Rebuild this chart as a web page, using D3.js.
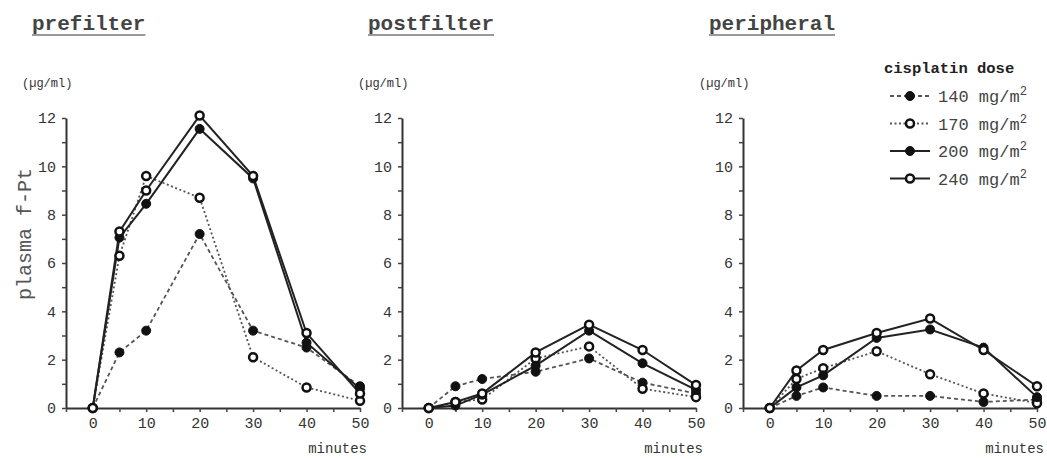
<!DOCTYPE html>
<html>
<head>
<meta charset="utf-8">
<script src="https://cdn.jsdelivr.net/npm/d3@7"></script>
<style>
  body { margin: 0; background: #fff; }
  text { font-family: "Liberation Mono", "Courier New", "DejaVu Sans Mono", monospace; fill: #333; }
</style>
</head>
<body>
<div id="chart"></div>
<script>
// time points (minutes) and doses (mg/m2)
const minutes = [0, 5, 10, 20, 30, 40, 50];
const doses = [140, 170, 200, 240];
const panelTitles = ["prefilter", "postfilter", "peripheral"];

// plasma f-Pt, ug/ml
const pre140 = [0, 2.3, 3.2, 7.2, 3.2, 2.5, 0.9];
const pre170 = [0, 6.3, 9.6, 8.7, 2.1, 0.85, 0.3];
const pre200 = [0, 7.05, 8.45, 11.55, 9.5, 2.7, 0.8];
const pre240 = [0, 7.3, 9.0, 12.1, 9.6, 3.1, 0.6];

const post140 = [0, 0.9, 1.2, 1.5, 2.05, 1.05, 0.6];
const post170 = [0, 0.25, 0.35, 2.05, 2.55, 0.8, 0.45];
const post200 = [0, 0.1, 0.55, 1.75, 3.2, 1.85, 0.75];
const post240 = [0, 0.25, 0.6, 2.3, 3.45, 2.4, 0.95];

const peri140 = [0, 0.5, 0.85, 0.5, 0.5, 0.25, 0.35];
const peri170 = [0, 1.2, 1.65, 2.35, 1.4, 0.6, 0.2];
const peri200 = [0, 0.85, 1.35, 2.9, 3.25, 2.5, 0.45];
const peri240 = [0, 1.55, 2.4, 3.1, 3.7, 2.4, 0.9];

const panelData = [
  [pre140, pre170, pre200, pre240],
  [post140, post170, post200, post240],
  [peri140, peri170, peri200, peri240]
];

// line style per dose: dash pattern, marker filled?
const dashes = ["4,3", "2,2.5", null, null];
const filled = [true, false, true, false];

const width = 1047, height = 459;
const axisX = [66, 402, 743];
const panelW = 294;

const svg = d3.select("#chart").append("svg")
  .attr("width", width)
  .attr("height", height);

const y = d3.scaleLinear().domain([0, 12]).range([408, 118]);

panelTitles.forEach((title, p) => {
  const ax = axisX[p];
  const x = d3.scaleLinear().domain([-5, 50]).range([ax, ax + panelW]);
  const g = svg.append("g");

  // title with underline
  const t = g.append("text")
    .attr("x", ax - 34)
    .attr("y", 30)
    .style("font-size", "21px")
    .style("font-weight", "bold")
    .style("fill", "#444")
    .text(title);
  const tw = t.node().getComputedTextLength();
  g.append("line")
    .attr("x1", ax - 34).attr("x2", ax - 34 + tw)
    .attr("y1", 35).attr("y2", 35)
    .attr("stroke", "#777").attr("stroke-width", 1.5);

  g.append("text")
    .attr("x", ax - 44)
    .attr("y", 87)
    .style("font-size", "12px")
    .text("(\u00b5g/ml)");

  // axes
  const yAxis = d3.axisLeft(y)
    .tickValues(d3.range(0, 13))
    .tickFormat(d => d % 2 === 0 ? d : "")
    .tickSize(4).tickSizeOuter(0).tickPadding(6);
  const ya = g.append("g").attr("transform", `translate(${ax},0)`).call(yAxis);

  const xAxis = d3.axisBottom(x)
    .tickValues(d3.range(-5, 51, 5))
    .tickFormat(d => d >= 0 && d % 10 === 0 ? d : "")
    .tickSize(4).tickSizeOuter(0).tickPadding(5);
  const xa = g.append("g").attr("transform", `translate(0,${y(0)})`).call(xAxis);

  [ya, xa].forEach(a => {
    a.select(".domain").attr("stroke", "#333").attr("stroke-width", 2);
    a.selectAll(".tick line").attr("stroke", "#444").attr("stroke-width", 1.5);
    a.selectAll(".tick text")
      .style("font-size", "15px")
      .style("font-family", "\"Liberation Mono\", \"Courier New\", monospace")
      .attr("fill", "#555");
  });

  g.append("text")
    .attr("x", x(50) + 7)
    .attr("y", 453)
    .attr("text-anchor", "end")
    .style("font-size", "14px")
    .text("minutes");

  // series
  const line = d3.line()
    .x((d, i) => x(minutes[i]))
    .y(d => y(d));

  panelData[p].forEach((vals, s) => {
    g.append("path")
      .datum(vals)
      .attr("d", line)
      .attr("fill", "none")
      .attr("stroke", s < 2 ? "#555" : "#222")
      .attr("stroke-width", s < 2 ? 1.8 : 2)
      .attr("stroke-dasharray", dashes[s]);
  });
  panelData[p].forEach((vals, s) => {
    g.selectAll(null)
      .data(vals)
      .join("circle")
      .attr("cx", (d, i) => x(minutes[i]))
      .attr("cy", d => y(d))
      .attr("r", filled[s] ? 4.5 : 4)
      .attr("fill", filled[s] ? "#111" : "#fff")
      .attr("stroke", "#111")
      .attr("stroke-width", filled[s] ? 1 : 2.5);
  });
});

// y label
svg.append("text")
  .attr("transform", "translate(31,234) rotate(-90)")
  .attr("text-anchor", "middle")
  .style("font-size", "20px")
  .style("fill", "#555")
  .text("plasma f-Pt");

// legend
const legend = svg.append("g");
legend.append("text")
  .attr("x", 884).attr("y", 73)
  .style("font-size", "15.5px")
  .style("font-weight", "bold")
  .style("fill", "#222")
  .text("cisplatin dose");

doses.forEach((dose, s) => {
  const ly = 96 + s * 27.5;
  legend.append("line")
    .attr("x1", 890).attr("x2", 930)
    .attr("y1", ly).attr("y2", ly)
    .attr("stroke", s < 2 ? "#555" : "#222")
    .attr("stroke-width", s < 2 ? 1.8 : 2)
    .attr("stroke-dasharray", dashes[s]);
  legend.append("circle")
    .attr("cx", 910).attr("cy", ly)
    .attr("r", filled[s] ? 4.5 : 4)
    .attr("fill", filled[s] ? "#111" : "#fff")
    .attr("stroke", "#111")
    .attr("stroke-width", filled[s] ? 1 : 2.5);
  const lt = legend.append("text")
    .attr("x", 938).attr("y", ly + 6)
    .style("font-size", "17px")
    .style("fill", "#444")
    .text(dose + " mg/m");
  lt.append("tspan")
    .attr("dy", -7)
    .style("font-size", "12px")
    .text("2");
});
</script>
</body>
</html>
